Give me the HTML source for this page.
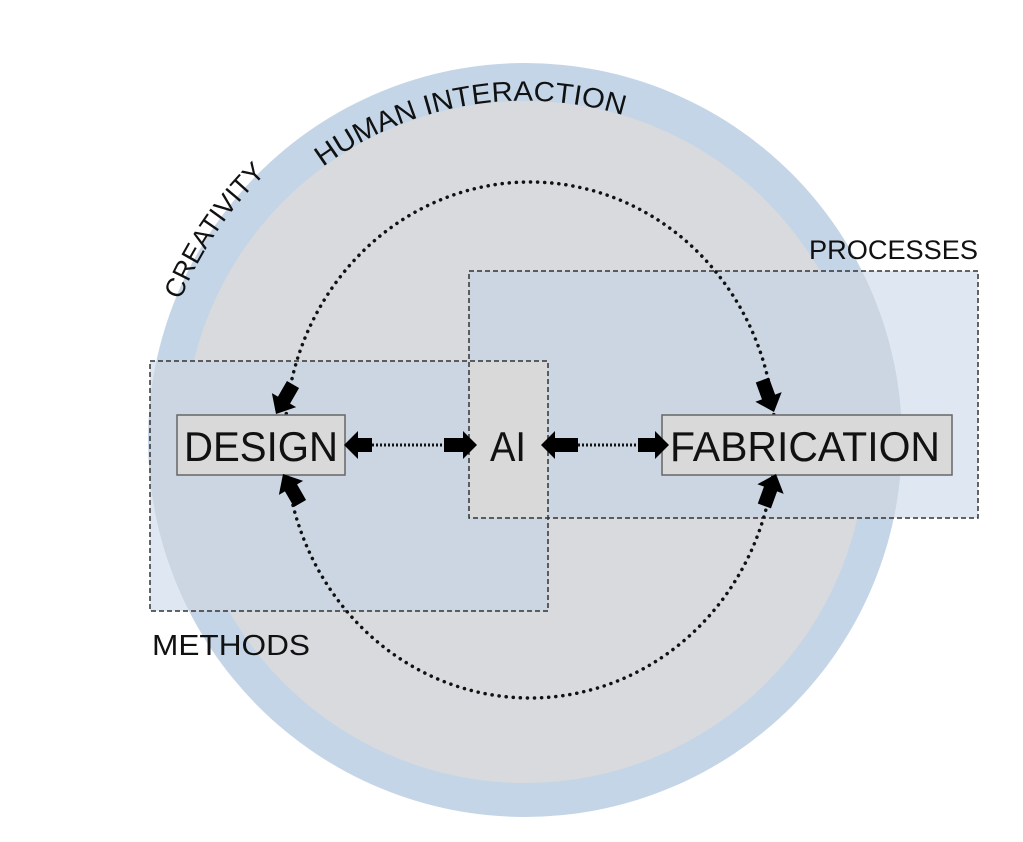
<!DOCTYPE html>
<html><head><meta charset="utf-8"><style>
html,body{margin:0;padding:0;background:#fff;}
svg{display:block;}
text{font-family:"Liberation Sans",sans-serif;fill:#111;}
</style></head><body>
<svg width="1023" height="842" viewBox="0 0 1023 842" xmlns="http://www.w3.org/2000/svg">
<defs>
<clipPath id="cc"><circle cx="525" cy="440" r="377"/></clipPath>
</defs>
<circle cx="525" cy="440" r="377" fill="#c4d5e7"/>
<circle cx="525" cy="442" r="341" fill="#d8dadd"/>
<rect x="150" y="361" width="398" height="250" fill="#dfe8f2"/>
<rect x="469" y="271" width="509" height="247" fill="#dfe8f2"/>
<g clip-path="url(#cc)">
<rect x="150" y="361" width="398" height="250" fill="#cbd6e2"/>
<rect x="469" y="271" width="509" height="247" fill="#cbd6e2"/>
</g>
<rect x="469" y="361" width="79" height="157" fill="#d9d9d9"/>
<g fill="none" stroke="#333" stroke-width="1.5" stroke-dasharray="5,3">
<rect x="150" y="361" width="398" height="250"/>
<rect x="469" y="271" width="509" height="247"/>
</g>
<ellipse cx="530" cy="440" rx="245" ry="258" fill="none" stroke="#111" stroke-width="3.5" stroke-dasharray="0.1,7" stroke-linecap="round"/>
<rect x="177" y="415" width="168" height="60" fill="#d9d9d9" stroke="#666" stroke-width="1.5"/>
<rect x="662" y="415" width="290" height="60" fill="#d9d9d9" stroke="#666" stroke-width="1.5"/>
<text x="184" y="461" font-size="42" textLength="154" lengthAdjust="spacingAndGlyphs">DESIGN</text>
<text x="670" y="461" font-size="42" textLength="270" lengthAdjust="spacingAndGlyphs">FABRICATION</text>
<text x="490" y="461" font-size="42" textLength="36" lengthAdjust="spacingAndGlyphs">AI</text>
<line x1="372" y1="445" x2="445" y2="445" stroke="#111" stroke-width="3" stroke-dasharray="2,2"/>
<line x1="578" y1="445" x2="640" y2="445" stroke="#111" stroke-width="3" stroke-dasharray="2,2"/>
<g fill="#000">
<polygon points="344,445 358,431 358,438 372,438 372,452 358,452 358,459"/>
<polygon points="477,445 463,431 463,438 444,438 444,452 463,452 463,459"/>
<polygon points="541,445 555,431 555,438 578,438 578,452 555,452 555,459"/>
<polygon points="669,445 655,431 655,438 638,438 638,452 655,452 655,459"/>
<g transform="translate(276,414) rotate(-60)"><polygon points="0,0 16,-14 16,-7 34,-7 34,7 16,7 16,14"/></g>
<g transform="translate(283,474) rotate(60)"><polygon points="0,0 16,-14 16,-7 34,-7 34,7 16,7 16,14"/></g>
<g transform="translate(774,412) rotate(-110)"><polygon points="0,0 16,-14 16,-7 34,-7 34,7 16,7 16,14"/></g>
<g transform="translate(776,474) rotate(110)"><polygon points="0,0 16,-14 16,-7 34,-7 34,7 16,7 16,14"/></g>
</g>
<path id="arc" d="M190,381 A340,340 0 0 1 743,180" fill="none"/>
<path id="arc2" d="M159,375 A372,372 0 0 1 525,68" fill="none"/>
<text font-size="27"><textPath href="#arc2" startOffset="78" textLength="154" lengthAdjust="spacingAndGlyphs">CREATIVITY</textPath></text>
<text font-size="28"><textPath href="#arc" startOffset="258" textLength="316" lengthAdjust="spacingAndGlyphs">HUMAN INTERACTION</textPath></text>
<text x="809" y="259" font-size="27" textLength="169" lengthAdjust="spacingAndGlyphs">PROCESSES</text>
<text x="152" y="655" font-size="29" textLength="158" lengthAdjust="spacingAndGlyphs">METHODS</text>
</svg>
</body></html>
